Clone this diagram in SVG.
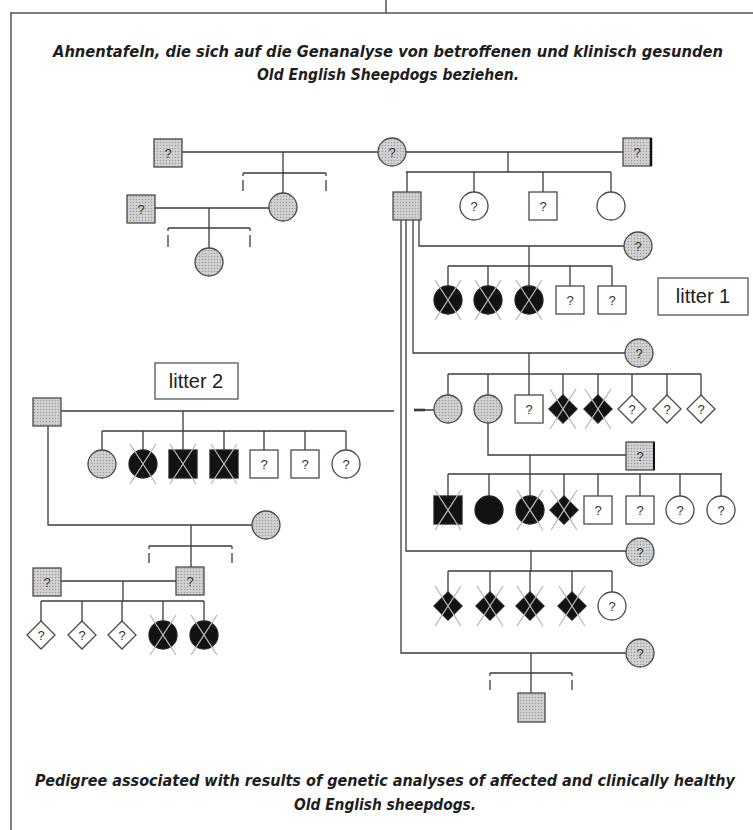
<svg xmlns="http://www.w3.org/2000/svg" xmlns:xlink="http://www.w3.org/1999/xlink" width="753" height="830" viewBox="0 0 753 830">
<defs>
<pattern id="dots" width="3" height="3" patternUnits="userSpaceOnUse">
<rect width="3" height="3" fill="#d2d2d2"/>
<circle cx="1.5" cy="1.5" r="0.75" fill="#9c9c9c"/>
</pattern>
<g id="xm"><line x1="-13" y1="-20" x2="13" y2="20"/><line x1="13" y1="-20" x2="-13" y2="20"/></g>
<style>
.ln{stroke:#3c3c3c;stroke-width:1.3;fill:none}
.gray{fill:url(#dots);stroke:#4a4a4a;stroke-width:1.3}
.white{fill:#fff;stroke:#4a4a4a;stroke-width:1.3}
.black{fill:#121212;stroke:#222;stroke-width:1.3}
.x{stroke:#b8b8b8;stroke-width:1.3}
.q{font-family:"Liberation Sans",Arial,sans-serif;font-size:13px;fill:#333;text-anchor:middle}
.lab{font-family:"Liberation Sans",Arial,sans-serif;font-size:20px;fill:#222;text-anchor:middle}
.box{fill:#fff;stroke:#555;stroke-width:1.3}
.title{font-family:"DejaVu Sans Condensed","Liberation Sans",sans-serif;font-weight:bold;font-style:italic;font-size:15px;fill:#1e1e1e;text-anchor:middle}
.frame{stroke:#555;stroke-width:1.5;fill:none}
</style>
</defs>
<rect width="753" height="830" fill="#fff"/>
<g id="frame">
<path class="frame" d="M10,13 H753 M11,13 V830 M386,0 V13"/>
</g>
<g id="titles">
<text class="title" x="388" y="57" textLength="670" lengthAdjust="spacingAndGlyphs">Ahnentafeln, die sich auf die Genanalyse von betroffenen und klinisch gesunden</text>
<text class="title" x="388" y="80" textLength="262" lengthAdjust="spacingAndGlyphs">Old English Sheepdogs beziehen.</text>
<text class="title" x="385" y="786" textLength="700" lengthAdjust="spacingAndGlyphs">Pedigree associated with results of genetic analyses of affected and clinically healthy</text>
<text class="title" x="385" y="810" textLength="182" lengthAdjust="spacingAndGlyphs">Old English sheepdogs.</text>
</g>
<g id="connectors" class="ln">
<path d="M182,152 H378 M406,152 H623"/>
<path d="M283,152 V193 M243,173 H326 M243,173 V176 M243,180 V191 M326,173 V176 M326,180 V191"/>
<path d="M155,208 H269 M209,208 V248 M168,228 H250 M168,228 V231 M168,235 V247 M250,228 V231 M250,235 V247"/>
<path d="M508,152 V172 M406,172 H611 M407,172 V192 M474,172 V192 M543,172 V192 M611,172 V192"/>
<path d="M419,220 V246 H624 M529,246 V266 M448,266 H612 M448,266 V286 M488,266 V286 M529,266 V286 M570,266 V286 M612,266 V286"/>
<path d="M413,220 V353 H625 M529,353 V374 M448,374 H701 M448,374 V395 M488,374 V395 M529,374 V395 M563,374 V395 M598,374 V395 M632,374 V395 M667,374 V395 M701,374 V395"/>
<path d="M406,220 V551 H626 M531,551 V571 M448,571 H612 M448,571 V592 M490,571 V592 M530,571 V592 M572,571 V592 M612,571 V592"/>
<path d="M401,220 V653 H626 M531,653 V693 M490,673 H572 M490,673 V676 M490,680 V690 M572,673 V676 M572,680 V690"/>
<path d="M61,411 H394 M415,410 H434"/>
<path d="M414,410 H425" stroke-width="2.6"/>
<path d="M183,411 V431 M102,431 H346 M102,431 V450 M143,431 V450 M183,431 V450 M224,431 V450 M264,431 V450 M305,431 V450 M346,431 V450"/>
<path d="M48,426 V525 H252 M191,525 V567 M149,546 H232 M149,546 V549 M149,553 V563 M232,546 V549 M232,553 V563"/>
<path d="M61,581 H176 M123,581 V601 M41,601 H204 M41,601 V621 M82,601 V621 M122,601 V621 M163,601 V621 M204,601 V621"/>
<path d="M488,423 V455 H626 M530,455 V474 M448,474 H722 M448,474 V496 M489,474 V496 M530,474 V496 M564,474 V496 M598,474 V496 M640,474 V496 M680,474 V496 M721,474 V496"/>
</g>
<g id="n1"><rect class="gray" x="154" y="139" width="28" height="28"/><text class="q" x="168" y="158">?</text></g>
<g id="n2"><circle class="gray" cx="392" cy="152" r="14"/><text class="q" x="392" y="157">?</text></g>
<g id="n3"><rect class="gray" x="623" y="138" width="28" height="28"/><path d="M651,138 V166" stroke="#111" stroke-width="2.5"/><text class="q" x="637" y="157">?</text></g>
<g id="n4"><circle class="gray" cx="283" cy="207" r="14"/></g>
<g id="n5"><rect class="gray" x="127" y="195" width="28" height="28"/><text class="q" x="141" y="214">?</text></g>
<g id="n6"><circle class="gray" cx="209" cy="262" r="14"/></g>
<g id="n7"><rect class="gray" x="393" y="192" width="28" height="28"/></g>
<g id="n8"><circle class="white" cx="474" cy="206" r="14"/><text class="q" x="474" y="211">?</text></g>
<g id="n9"><rect class="white" x="529" y="192" width="28" height="28"/><text class="q" x="543" y="211">?</text></g>
<g id="n10"><circle class="white" cx="611" cy="206" r="14"/></g>
<g id="n11"><circle class="gray" cx="638" cy="246" r="14"/><text class="q" x="638" y="251">?</text></g>
<g id="n12"><circle class="black" cx="448" cy="300" r="14"/><use xlink:href="#xm" class="x" x="448" y="300"/></g>
<g id="n13"><circle class="black" cx="488" cy="300" r="14"/><use xlink:href="#xm" class="x" x="488" y="300"/></g>
<g id="n14"><circle class="black" cx="529" cy="300" r="14"/><use xlink:href="#xm" class="x" x="529" y="300"/></g>
<g id="n15"><rect class="white" x="556" y="286" width="28" height="28"/><text class="q" x="570" y="305">?</text></g>
<g id="n16"><rect class="white" x="598" y="286" width="28" height="28"/><text class="q" x="612" y="305">?</text></g>
<g id="litter1"><rect class="box" x="658" y="278" width="90" height="37"/><text class="lab" x="703" y="303">litter 1</text></g>
<g id="n17"><circle class="gray" cx="639" cy="353" r="14"/><text class="q" x="639" y="358">?</text></g>
<g id="n18"><circle class="gray" cx="448" cy="409" r="14"/></g>
<g id="n19"><circle class="gray" cx="488" cy="409" r="14"/></g>
<g id="n20"><rect class="white" x="515" y="395" width="28" height="28"/><text class="q" x="529" y="414">?</text></g>
<g id="n21"><path class="black" d="M563,395 L577,409 L563,423 L549,409 Z"/><use xlink:href="#xm" class="x" x="563" y="409"/></g>
<g id="n22"><path class="black" d="M598,395 L612,409 L598,423 L584,409 Z"/><use xlink:href="#xm" class="x" x="598" y="409"/></g>
<g id="n23"><path class="white" d="M632,395 L646,409 L632,423 L618,409 Z"/><text class="q" x="632" y="414">?</text></g>
<g id="n24"><path class="white" d="M667,395 L681,409 L667,423 L653,409 Z"/><text class="q" x="667" y="414">?</text></g>
<g id="n25"><path class="white" d="M701,395 L715,409 L701,423 L687,409 Z"/><text class="q" x="701" y="414">?</text></g>
<g id="n26"><rect class="gray" x="33" y="398" width="28" height="28"/></g>
<g id="litter2"><rect class="box" x="155" y="363" width="83" height="36"/><text class="lab" x="196" y="388">litter 2</text></g>
<g id="n27"><circle class="gray" cx="102" cy="464" r="14"/></g>
<g id="n28"><circle class="black" cx="143" cy="464" r="14"/><use xlink:href="#xm" class="x" x="143" y="464"/></g>
<g id="n29"><rect class="black" x="169" y="450" width="28" height="28"/><use xlink:href="#xm" class="x" x="183" y="464"/></g>
<g id="n30"><rect class="black" x="210" y="450" width="28" height="28"/><use xlink:href="#xm" class="x" x="224" y="464"/></g>
<g id="n31"><rect class="white" x="250" y="450" width="28" height="28"/><text class="q" x="264" y="469">?</text></g>
<g id="n32"><rect class="white" x="291" y="450" width="28" height="28"/><text class="q" x="305" y="469">?</text></g>
<g id="n33"><circle class="white" cx="346" cy="464" r="14"/><text class="q" x="346" y="469">?</text></g>
<g id="n34"><circle class="gray" cx="266" cy="525" r="14"/></g>
<g id="n35"><rect class="gray" x="176" y="567" width="28" height="28"/><text class="q" x="190" y="586">?</text></g>
<g id="n36"><rect class="gray" x="33" y="568" width="28" height="28"/><text class="q" x="47" y="587">?</text></g>
<g id="n37"><path class="white" d="M41,621 L55,635 L41,649 L27,635 Z"/><text class="q" x="41" y="640">?</text></g>
<g id="n38"><path class="white" d="M82,621 L96,635 L82,649 L68,635 Z"/><text class="q" x="82" y="640">?</text></g>
<g id="n39"><path class="white" d="M122,621 L136,635 L122,649 L108,635 Z"/><text class="q" x="122" y="640">?</text></g>
<g id="n40"><circle class="black" cx="163" cy="635" r="14"/><use xlink:href="#xm" class="x" x="163" y="635"/></g>
<g id="n41"><circle class="black" cx="204" cy="635" r="14"/><use xlink:href="#xm" class="x" x="204" y="635"/></g>
<g id="n42"><rect class="gray" x="626" y="442" width="28" height="28"/><path d="M654,442 V470" stroke="#111" stroke-width="2"/><text class="q" x="640" y="461">?</text></g>
<g id="n43"><rect class="black" x="434" y="496" width="28" height="28"/><use xlink:href="#xm" class="x" x="448" y="510"/></g>
<g id="n44"><circle class="black" cx="489" cy="510" r="14"/></g>
<g id="n45"><circle class="black" cx="530" cy="510" r="14"/><use xlink:href="#xm" class="x" x="530" y="510"/></g>
<g id="n46"><path class="black" d="M564,496 L578,510 L564,524 L550,510 Z"/><use xlink:href="#xm" class="x" x="564" y="510"/></g>
<g id="n47"><rect class="white" x="584" y="496" width="28" height="28"/><text class="q" x="598" y="515">?</text></g>
<g id="n48"><rect class="white" x="626" y="496" width="28" height="28"/><text class="q" x="640" y="515">?</text></g>
<g id="n49"><circle class="white" cx="680" cy="510" r="14"/><text class="q" x="680" y="515">?</text></g>
<g id="n50"><circle class="white" cx="721" cy="510" r="14"/><text class="q" x="721" y="515">?</text></g>
<g id="n51"><circle class="gray" cx="640" cy="552" r="14"/><text class="q" x="640" y="557">?</text></g>
<g id="n52"><path class="black" d="M448,592 L462,606 L448,620 L434,606 Z"/><use xlink:href="#xm" class="x" x="448" y="606"/></g>
<g id="n53"><path class="black" d="M490,592 L504,606 L490,620 L476,606 Z"/><use xlink:href="#xm" class="x" x="490" y="606"/></g>
<g id="n54"><path class="black" d="M530,592 L544,606 L530,620 L516,606 Z"/><use xlink:href="#xm" class="x" x="530" y="606"/></g>
<g id="n55"><path class="black" d="M572,592 L586,606 L572,620 L558,606 Z"/><use xlink:href="#xm" class="x" x="572" y="606"/></g>
<g id="n56"><circle class="white" cx="612" cy="606" r="14"/><text class="q" x="612" y="611">?</text></g>
<g id="n57"><circle class="gray" cx="640" cy="653" r="14"/><text class="q" x="640" y="658">?</text></g>
<g id="n58"><rect class="gray" x="518" y="693" width="27" height="29"/></g>
</svg>
